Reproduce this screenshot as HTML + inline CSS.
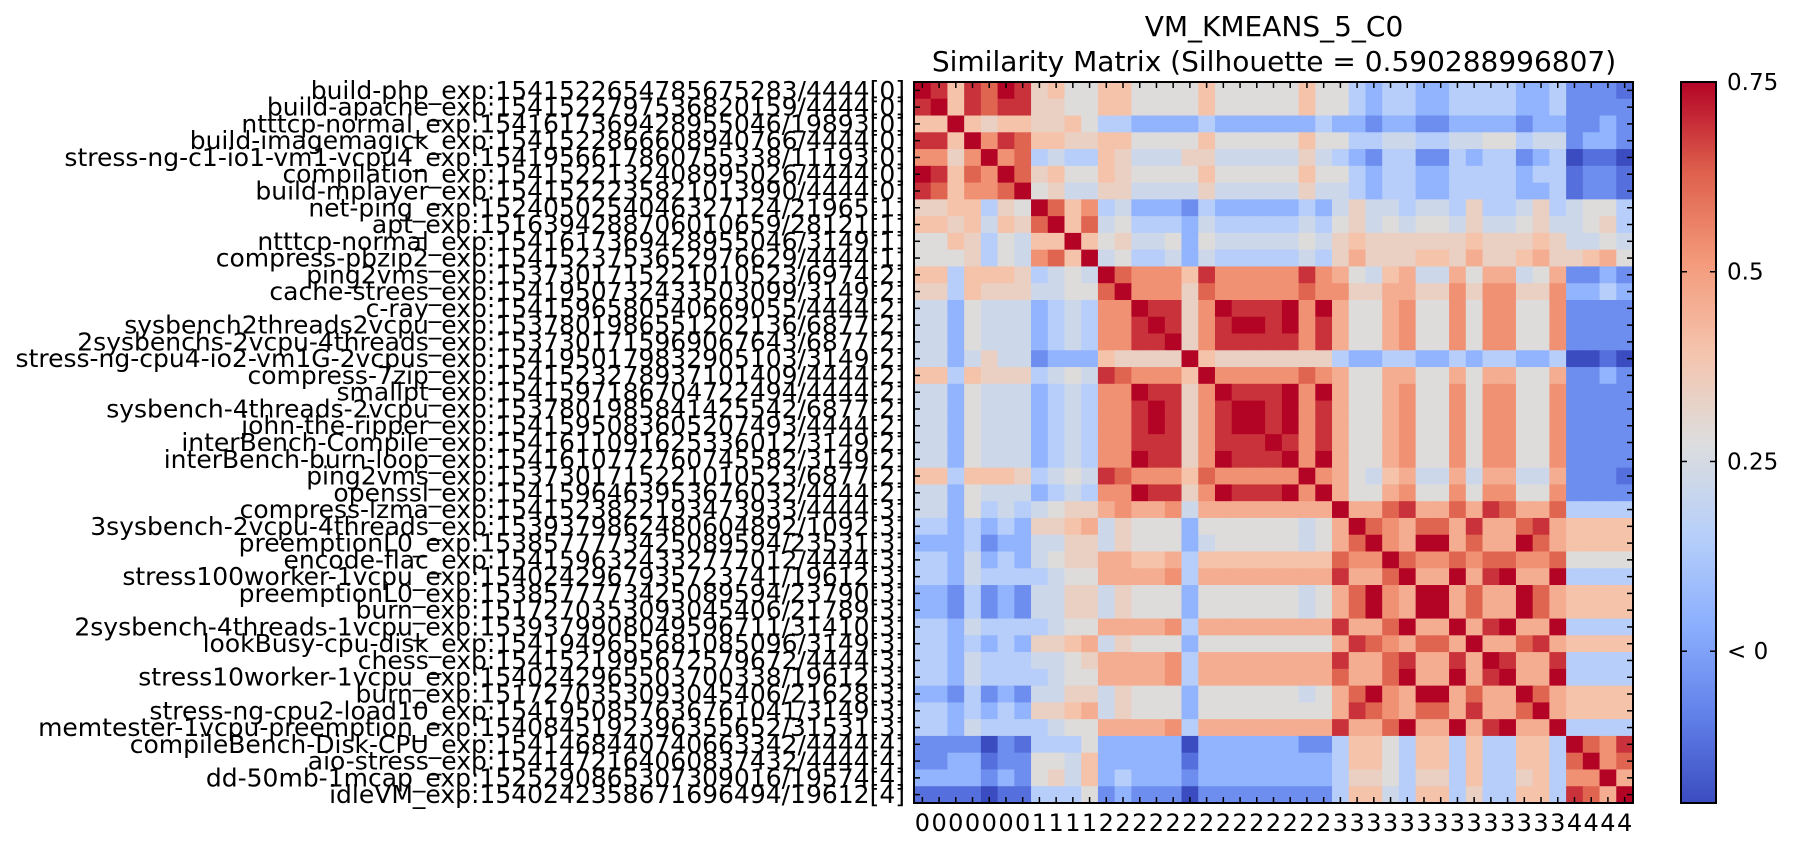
<!DOCTYPE html>
<html><head><meta charset="utf-8">
<style>
html,body{margin:0;padding:0;background:#fff;}
body{width:1796px;height:850px;overflow:hidden;}
svg text{font-family:"DejaVu Sans","Liberation Sans",sans-serif;fill:#000;}
</style></head>
<body>
<svg id="chart" width="1796" height="850" xmlns="http://www.w3.org/2000/svg">
<text x="1274" y="36" font-size="28" text-anchor="middle">VM_KMEANS_5_C0</text>
<text x="1274" y="71" font-size="28" text-anchor="middle">Similarity Matrix (Silhouette = 0.590288996807)</text>
<g id="cells"></g>
<g id="ylabels"></g>
<g id="xlabels"></g>
<g id="ticks"></g>
<rect x="914" y="82" width="719" height="721" fill="none" stroke="#000" stroke-width="2"/>
<defs><linearGradient id="cbg" x1="0" y1="1" x2="0" y2="0"></linearGradient></defs>
<rect x="1681" y="82" width="35" height="721" fill="url(#cbg)" stroke="#000" stroke-width="2"/>
<g id="cbticks"></g>
</svg>
<script>
const labels = [
"build-php_exp:1541522654785675283/4444[0]",
"build-apache_exp:1541522797536820159/4444[0]",
"ntttcp-normal_exp:1541617369428955046/19893[0]",
"build-imagemagick_exp:1541522866608940766/4444[0]",
"stress-ng-c1-io1-vm1-vcpu4_exp:1541956617860755338/11193[0]",
"compilation_exp:1541522132408995026/4444[0]",
"build-mplayer_exp:1541522235821013990/4444[0]",
"net-ping_exp:1524050254046327124/21965[1]",
"apt_exp:1516394288706010659/28121[1]",
"ntttcp-normal_exp:1541617369428955046/3149[1]",
"compress-pbzip2_exp:1541523753652976629/4444[1]",
"ping2vms_exp:1537301715221010523/6974[2]",
"cache-strees_exp:1541950732433503099/3149[2]",
"c-ray_exp:1541596580540669055/4444[2]",
"sysbench2threads2vcpu_exp:1537801986551202136/6877[2]",
"2sysbenchs-2vcpu-4threads_exp:1537301715969067643/6877[2]",
"stress-ng-cpu4-io2-vm1G-2vcpus_exp:1541950179832905103/3149[2]",
"compress-7zip_exp:1541523278937101409/4444[2]",
"smallpt_exp:1541597186704722494/4444[2]",
"sysbench-4threads-2vcpu_exp:1537801985841425542/6877[2]",
"john-the-ripper_exp:1541595083605207493/4444[2]",
"interBench-Compile_exp:1541611091625336012/3149[2]",
"interBench-burn-loop_exp:1541610772760745582/3149[2]",
"ping2vms_exp:1537301715221010523/6877[2]",
"openssl_exp:1541596463953676032/4444[2]",
"compress-lzma_exp:1541523822193473933/4444[3]",
"3sysbench-2vcpu-4threads_exp:1539379862480604892/1092[3]",
"preemptionL0_exp:1538577773425089594/23531[3]",
"encode-flac_exp:1541596324332777012/4444[3]",
"stress100worker-1vcpu_exp:1540242967935723741/19612[3]",
"preemptionL0_exp:1538577773425089594/23790[3]",
"burn_exp:1517270353093045406/21789[3]",
"2sysbench-4threads-1vcpu_exp:1539379908049596711/31410[3]",
"lookBusy-cpu-disk_exp:1541949655681085096/3149[3]",
"chess_exp:1541521995672579672/4444[3]",
"stress10worker-1vcpu_exp:1540242965503700338/19612[3]",
"burn_exp:1517270353093045406/21628[3]",
"stress-ng-cpu2-load10_exp:1541950857636761041/3149[3]",
"memtester-1vcpu-preemption_exp:1540845192396355652/31531[3]",
"compileBench-Disk-CPU_exp:1541468440740663342/4444[4]",
"aio-stress_exp:1541472164060837432/4444[4]",
"dd-50mb-1mcap_exp:1525290865307309016/19574[4]",
"idleVM_exp:1540242358671696494/19612[4]"
];
const clusters = "0000000111122222222222222333333333333334444".split("");
const levelKeys = "abcdefghijklmn".split("");
const levelValues = [-0.2,-0.12,-0.05,0.05,0.15,0.22,0.28,0.34,0.40,0.46,0.53,0.62,0.69,0.75];
const rows = [
"nmimlnm"+"higg"+"iiggggigggggig"+"gedeeddeeeedde"+"cccb",
"mnimlmm"+"hhgg"+"iiggggigggggig"+"gedeeddeeeedde"+"cccc",
"iinihii"+"hhig"+"eeddddedddddde"+"ddcddccddddcdd"+"ccdc",
"mminkml"+"iihh"+"iiggggigggggig"+"geeffeeffggeff"+"cddc",
"kkhknkl"+"efee"+"ihfffhhfffffhf"+"edceeccedeecde"+"abba",
"nmilknl"+"higg"+"ihggggigggggig"+"gedeeddeeeedee"+"bccb",
"mlikkln"+"ghff"+"hhffffhfffffhf"+"fedeeddeeeedde"+"bccb",
"hhiiehg"+"nlik"+"efdddceddddded"+"fhffeffeheefhe"+"fgge",
"iihifih"+"lnil"+"fgeeedfeeeeefe"+"ghfgfggfhffghf"+"fghe",
"ggihegf"+"iini"+"ghffgdgfffffgf"+"hihhhhhhihhhih"+"ffgf",
"ggghegf"+"klin"+"fgeefdfeeeeefe"+"hjhhhiihjhhijh"+"hijg",
"iieiiih"+"efgf"+"nlkkkimkkkkkmk"+"jgfijffjgjjfgj"+"ccdc",
"hheihhh"+"ffgg"+"lnkkkhlkkkkklk"+"khhjjhhkhkkhhk"+"dded",
"ffdgfff"+"defe"+"kknmmhknmmmnkn"+"jggjkggkgkkggk"+"cccc",
"ffdgfff"+"defe"+"kkmnmhkmnnmnkm"+"jggjkggkgkkggk"+"cccc",
"ffdgfff"+"defe"+"kkmmnhkmmmmmkm"+"jggjkggkgkkggk"+"cccc",
"ffdfhff"+"cddd"+"ihhhhnihhhhhhh"+"eddeeddedeedde"+"aaba",
"iieihhh"+"efgf"+"mlkkkinkkkkklk"+"jggjjggjgjjggj"+"ccdc",
"ffdgfff"+"defe"+"kknmmhknmmmnkn"+"jggjkggkgkkggk"+"cccc",
"ffdgfff"+"defe"+"kkmnmhkmnnmnkm"+"jggjkggkgkkggk"+"cccc",
"ffdgfff"+"defe"+"kkmnmhkmnnmnkm"+"jggjkggkgkkggk"+"cccc",
"ffdgfff"+"defe"+"kkmmmhkmmmnmkm"+"jggjkggkgkkggk"+"cccc",
"ffdgfff"+"defe"+"kknmmhknmmmnkn"+"jggjkggkgkkggk"+"cccc",
"iieiiih"+"efgf"+"mlkkkilkkkkknk"+"jgfijffjfjjffj"+"cccb",
"ffdgfff"+"defe"+"kknmmhknmmmnkn"+"jggjkggkgkkggk"+"cccc",
"ffdgefe"+"fghh"+"jkjjkfjjjjjjjj"+"njjlmjjljmljjl"+"eeee",
"eededed"+"hhij"+"fhgggdggggggfg"+"jnlkjlljmjjlmj"+"iiii",
"dddecdd"+"ffhh"+"fhgggdfgggggfg"+"jlnkjnnjljjnlj"+"iiii",
"eedfded"+"fghh"+"jjiijeiiiiiiii"+"lkknlkklkllkkl"+"gggg",
"eedfeee"+"efgg"+"jjjjkejjjjjjjj"+"mjjlnjjnjmnjjn"+"eeee",
"ddcecdc"+"ffhh"+"fhgggdggggggfg"+"jlnkjnnjljjnlj"+"iiii",
"ddcecdc"+"ffhh"+"fhgggdggggggfg"+"jlnkjnnjljjnlj"+"iiii",
"eedfeee"+"efgg"+"jjjjkejjjjjjjj"+"mjjlnjjnjmnjjn"+"eeee",
"eededed"+"hhij"+"fhgggdgggggggg"+"jmlkjlljnjjlmj"+"iiii",
"eedfeee"+"ffgh"+"jjjjkejjjjjjjj"+"mjjlmjjmjnmjjm"+"eeee",
"eedfeee"+"efgg"+"jjjjkejjjjjjjj"+"ljjlnjjnjmnjjn"+"eeee",
"ddcecdc"+"ffhh"+"fhgggdggggggfg"+"jlnkjnnjljjnlj"+"iiii",
"eededed"+"hhij"+"fhgggdgggggggg"+"jmlkjlljmjjlnj"+"iiii",
"eedfeee"+"efgg"+"jjjjkejjjjjjjj"+"mjjlnjjnjmnjjn"+"eeee",
"ccccacb"+"eeeg"+"dddddaddddddcc"+"eiigeiieieeiie"+"nlkm",
"ccddbcc"+"ggfi"+"dddddbdddddddd"+"eiigeiieieeiie"+"lnkl",
"ddddcdc"+"ghfi"+"dedddcdddddddd"+"ehhgehheieehie"+"kknj",
"bbbbabb"+"eeeg"+"cdcccacccccccc"+"eiifeiieheeiie"+"mljn"
];
const cbTickValues = [0.75, 0.5, 0.25, 0];
const cbTickLabels = ["0.75", "0.5", "0.25", "< 0"];
const vmin = -0.2, vmax = 0.75;

const NS = "http://www.w3.org/2000/svg";
const X0 = 914, Y0 = 82, W = 719, H = 721, N = labels.length;
const cw = W / N, ch = H / N;
const xScale = i => X0 + i * cw;
const yScale = i => Y0 + i * ch;
const CB_X = 1681, CB_W = 35;
const cbScale = v => Y0 + (vmax - v) / (vmax - vmin) * H;

const anchors = [[0,[59,76,192]],[0.125,[98,130,234]],[0.25,[141,176,254]],[0.375,[184,208,249]],[0.5,[221,221,221]],[0.625,[245,196,173]],[0.75,[244,154,123]],[0.875,[222,96,77]],[1,[180,4,38]]];
function cmap(v){
  let t = Math.max(0, Math.min(1, (v - vmin) / (vmax - vmin)));
  for (let k = 0; k < anchors.length - 1; k++) {
    const a = anchors[k], b = anchors[k+1];
    if (t <= b[0]) {
      const f = (t - a[0]) / (b[0] - a[0]);
      const c = a[1].map((x, j) => Math.round(x + (b[1][j] - x) * f));
      return "rgb(" + c.join(",") + ")";
    }
  }
  return "rgb(180,4,38)";
}

const gCells = document.getElementById("cells");
for (let r = 0; r < N; r++) {
  const row = rows[r] || "";
  for (let c = 0; c < N; c++) {
    const key = row[c] || "g";
    const v = levelValues[levelKeys.indexOf(key)];
    const rect = document.createElementNS(NS, "rect");
    rect.setAttribute("x", xScale(c).toFixed(2));
    rect.setAttribute("y", yScale(r).toFixed(2));
    rect.setAttribute("width", (cw + 0.6).toFixed(2));
    rect.setAttribute("height", (ch + 0.6).toFixed(2));
    rect.setAttribute("fill", cmap(v));
    
    
    gCells.appendChild(rect);
  }
}

const gY = document.getElementById("ylabels");
labels.forEach((lab, i) => {
  const t = document.createElementNS(NS, "text");
  t.setAttribute("x", 905);
  t.setAttribute("y", (yScale(i) + ch / 2 + 8.5).toFixed(2));
  t.setAttribute("font-size", "25");
  t.setAttribute("text-anchor", "end");
  t.textContent = lab;
  
  
  gY.appendChild(t);
});

const gX = document.getElementById("xlabels");
clusters.forEach((cl, i) => {
  const t = document.createElementNS(NS, "text");
  t.setAttribute("x", (xScale(i) + cw / 2).toFixed(2));
  t.setAttribute("y", 831);
  t.setAttribute("font-size", "24");
  t.setAttribute("text-anchor", "middle");
  t.textContent = cl;
  
  
  gX.appendChild(t);
});

const gT = document.getElementById("ticks");
for (let i = 0; i < N; i++) {
  const cx = xScale(i) + cw / 2, cy = yScale(i) + ch / 2;
  [[cx, Y0, cx, Y0 + 6], [cx, Y0 + H, cx, Y0 + H - 6], [X0, cy, X0 + 6, cy], [X0 + W, cy, X0 + W - 6, cy]].forEach(p => {
    const l = document.createElementNS(NS, "line");
    l.setAttribute("x1", p[0]); l.setAttribute("y1", p[1]);
    l.setAttribute("x2", p[2]); l.setAttribute("y2", p[3]);
    l.setAttribute("stroke", "#000"); l.setAttribute("stroke-width", "1.5");
    
    
    gT.appendChild(l);
  });
}

const grad = document.getElementById("cbg");
anchors.forEach(a => {
  const s = document.createElementNS(NS, "stop");
  s.setAttribute("offset", a[0]);
  s.setAttribute("stop-color", "rgb(" + a[1].join(",") + ")");
  grad.appendChild(s);
});

const gCB = document.getElementById("cbticks");
cbTickValues.forEach((v, i) => {
  const y = cbScale(v);
  [[CB_X, CB_X + 6], [CB_X + CB_W, CB_X + CB_W - 6]].forEach(p => {
    const l = document.createElementNS(NS, "line");
    l.setAttribute("x1", p[0]); l.setAttribute("x2", p[1]);
    l.setAttribute("y1", y); l.setAttribute("y2", y);
    l.setAttribute("stroke", "#000"); l.setAttribute("stroke-width", "1.5");
    
    
    gCB.appendChild(l);
  });
  const t = document.createElementNS(NS, "text");
  t.setAttribute("x", 1727);
  t.setAttribute("y", (y + 8).toFixed(2));
  t.setAttribute("font-size", "23");
  t.textContent = cbTickLabels[i];
  
  
  gCB.appendChild(t);
});
</script>
</body></html>
